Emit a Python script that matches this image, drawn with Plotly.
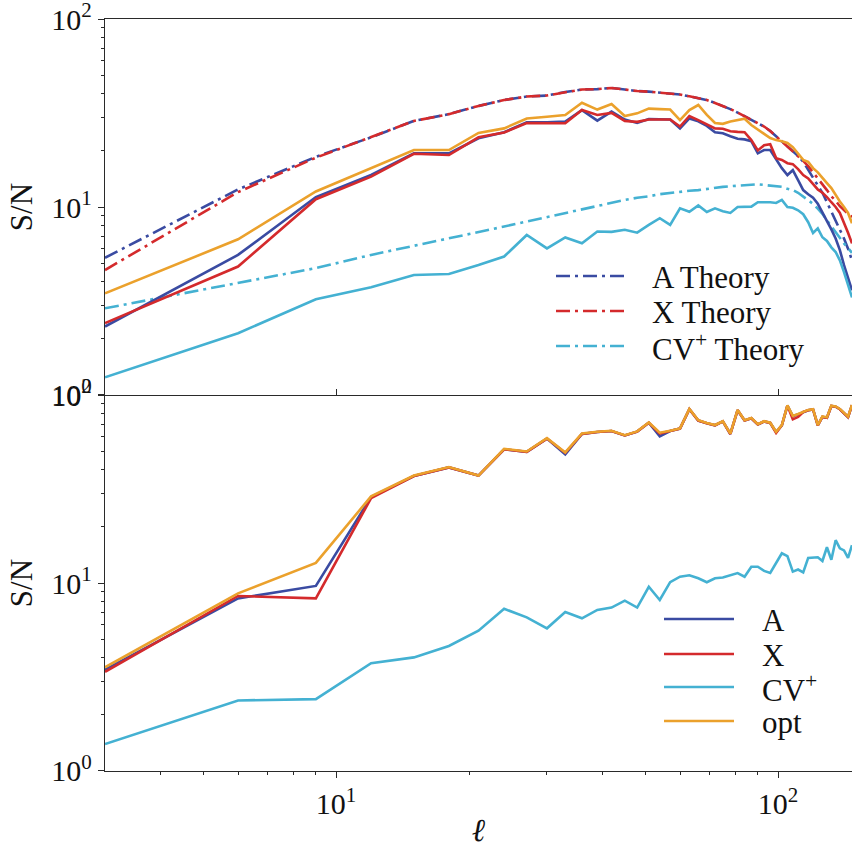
import math
import plotly.graph_objects as go

# ---------------- data ----------------
ell = [3, 6, 9, 12, 15, 18, 21, 24, 27, 30, 33, 36, 39, 42, 45, 48, 51, 54, 57, 60,
       63, 66, 69, 72, 75, 78, 81, 84, 87, 90, 93, 96, 99, 102, 105, 108, 111, 114,
       117, 120, 123, 126, 129, 132, 135, 138, 141, 144, 147]

# top panel: theory curves (dash-dot)
a_theory = [5.37, 12.4, 18.5, 23.5, 28.7, 31.2, 34.5, 37.1, 38.7, 39.2, 40.9, 42.2, 42.4, 43.0,
            42.2, 41.4, 41.1, 40.6, 40.1, 39.7, 38.8, 37.9, 37.1, 35.8, 34.5, 33.2, 31.8, 30.4,
            29.0, 28.0, 26.8, 25.4, 23.8, 22.4, 21.1, 19.8, 18.7, 17.4, 15.7, 14.4, 13.1, 11.9,
            10.6, 9.5, 8.5, 7.6, 6.8, 6.0, 5.2]
x_theory = [4.62, 12.0, 18.3, 23.5, 28.7, 31.2, 34.5, 37.1, 38.7, 39.2, 40.9, 42.2, 42.4, 43.0,
            42.2, 41.4, 41.1, 40.6, 40.1, 39.7, 38.8, 37.9, 37.1, 35.8, 34.5, 33.2, 31.8, 30.4,
            29.0, 28.0, 26.8, 25.4, 23.8, 22.4, 21.1, 19.8, 18.7, 17.6, 16.5, 15.3, 14.3, 13.2,
            12.3, 11.4, 10.8, 10.1, 9.6, 9.2, 8.85]
cv_theory = [2.89, 3.93, 4.73, 5.56, 6.2, 6.8, 7.36, 7.87, 8.37, 8.85, 9.3, 9.7, 10.1, 10.5,
             10.9, 11.2, 11.4, 11.7, 11.9, 12.0, 12.2, 12.3, 12.5, 12.6, 12.8, 12.9, 13.0, 13.1,
             13.2, 13.2, 13.1, 13.0, 12.9, 12.8, 12.5, 12.3, 11.9, 11.4, 10.9, 10.4, 9.8, 9.2,
             8.5, 7.9, 7.4, 6.8, 6.4, 6.05, 5.7]

# top panel: measured S/N (solid)
a_top = [2.31, 5.56, 11.3, 14.8, 19.3, 19.3, 23.2, 25.0, 28.2, 28.2, 28.5, 32.8, 28.8, 32.2,
         29.2, 28.0, 29.4, 29.2, 29.2, 26.2, 29.6, 28.6, 27.0, 25.0, 24.7, 23.8, 23.1, 22.9,
         22.4, 19.3, 20.1, 20.1, 17.8, 16.1, 14.8, 15.7, 13.9, 12.3, 11.7, 11.2, 10.4, 9.4,
         8.4, 7.6, 6.8, 5.9, 4.9, 4.2, 3.6]
x_top = [2.41, 4.82, 11.0, 14.5, 19.2, 18.9, 23.5, 24.9, 28.0, 28.0, 27.9, 32.8, 30.9, 31.7,
         28.7, 28.4, 29.2, 29.2, 29.2, 26.8, 30.5, 29.0, 27.6, 26.2, 26.1, 25.3, 25.1, 25.0,
         22.7, 20.0, 21.3, 21.6, 18.2, 17.8, 17.1, 16.9, 15.9, 14.8, 14.2, 13.3, 12.4, 11.9,
         11.3, 10.6, 10.0, 9.3, 8.3, 7.3, 6.4]
cv_top = [1.24, 2.13, 3.23, 3.74, 4.35, 4.40, 4.91, 5.45, 7.10, 6.02, 6.89, 6.41, 7.40, 7.37,
          7.56, 7.3, 8.03, 8.72, 8.03, 9.84, 9.44, 10.2, 9.4, 9.84, 9.5, 9.3, 10.0, 10.0,
          10.05, 10.6, 10.6, 10.6, 10.5, 10.9, 10.0, 9.9, 9.6, 9.15, 8.3, 7.27, 7.7, 6.9,
          6.6, 6.1, 5.76, 5.2, 4.5, 3.9, 3.3]
opt_top = [3.47, 6.73, 12.1, 16.1, 20.1, 20.1, 24.8, 26.2, 29.6, 30.2, 30.9, 35.9, 33.0, 35.3,
           30.5, 31.5, 33.4, 33.2, 33.0, 29.0, 32.8, 34.9, 30.9, 28.0, 27.7, 28.5, 29.0, 29.5,
           27.3, 25.7, 24.5, 23.3, 22.7, 22.4, 21.9, 20.8, 19.3, 17.8, 17.4, 16.1, 15.3, 14.4,
           13.4, 12.6, 11.5, 10.7, 10.0, 9.3, 8.2]

# bottom panel (solid)
a_bot = [3.45, 8.28, 9.65, 28.7, 37.1, 41.2, 37.3, 51.5, 49.9, 58.7, 48.3, 62.1, 63.6, 64.4,
         61.0, 63.9, 71.3, 60.3, 64.4, 66.3, 84.1, 73.2, 70.8, 69.1, 72.4, 62.1, 83.1, 73.2,
         75.3, 69.8, 72.4, 71.1, 63.6, 69.1, 87.9, 77.2, 79.0, 81.3, 83.1, 83.9, 69.1, 76.6,
         75.8, 87.5, 86.7, 84.1, 80.0, 76.4, 88.4]
x_bot = [3.37, 8.53, 8.28, 28.3, 37.1, 41.2, 37.3, 51.5, 49.9, 58.7, 49.3, 62.1, 63.6, 64.4,
         61.0, 63.9, 71.3, 62.5, 64.4, 66.3, 84.1, 73.2, 70.8, 69.1, 72.4, 62.1, 83.1, 73.2,
         75.3, 69.8, 72.4, 71.1, 62.9, 69.1, 87.9, 74.3, 76.5, 81.3, 83.1, 83.9, 69.1, 76.6,
         75.8, 87.5, 86.7, 84.1, 80.0, 76.4, 88.4]
cv_bot = [1.39, 2.37, 2.41, 3.74, 4.02, 4.62, 5.57, 7.29, 6.56, 5.74, 7.0, 6.49, 7.19, 7.40,
          8.05, 7.40, 9.55, 8.12, 10.1, 10.8, 11.0, 10.6, 10.1, 10.6, 10.7, 11.0, 11.3, 10.8,
          12.2, 12.2, 11.6, 11.3, 12.9, 14.4, 13.9, 11.5, 11.8, 11.4, 13.6, 13.7, 13.7, 13.1,
          15.5, 13.3, 16.9, 15.3, 14.9, 13.6, 15.9]
opt_bot = [3.56, 8.81, 12.8, 28.9, 37.3, 41.4, 37.3, 51.8, 50.1, 59.0, 49.5, 62.5, 63.8, 64.6,
           61.2, 64.1, 71.5, 63.1, 64.6, 66.5, 84.4, 73.5, 71.0, 69.3, 72.6, 62.4, 83.4, 73.5,
           75.6, 70.0, 72.6, 71.3, 63.8, 69.3, 88.2, 77.5, 79.3, 81.6, 83.4, 84.2, 69.3, 76.9,
           76.1, 87.8, 87.0, 84.4, 80.3, 76.7, 88.7]

top_legend = ["A Theory", "X Theory", "CV<sup>+</sup> Theory"]
bot_legend = ["A", "X", "CV<sup>+</sup>", "opt"]
y_tickvals = [1, 10, 100]
y_ticktext = ["10<sup>0</sup>", "10<sup>1</sup>", "10<sup>2</sup>"]
x_tickvals = [10, 100]
x_ticktext = ["10<sup>1</sup>", "10<sup>2</sup>"]

# ---------------- styling ----------------
C_A = "#3a4ba2"
C_X = "#d42a2c"
C_CV = "#44b1d2"
C_OPT = "#eba12c"
DASHDOT = "14px,5px,3px,5px"
LW = 2.6
FONT = "Liberation Serif"

W, H = 852, 848
ML, MR, MT, MB = 105, 0, 19, 77

fig = go.Figure()

def add(y, color, xa, ya, dash="solid", name=""):
    fig.add_trace(go.Scatter(x=ell, y=y, mode="lines", name=name, showlegend=False,
                             line=dict(color=color, width=LW, dash=dash),
                             xaxis=xa, yaxis=ya))

add(a_theory, C_A, "x", "y", DASHDOT, "A Theory")
add(x_theory, C_X, "x", "y", DASHDOT, "X Theory")
add(cv_theory, C_CV, "x", "y", DASHDOT, "CV+ Theory")
add(a_top, C_A, "x", "y", name="A")
add(x_top, C_X, "x", "y", name="X")
add(cv_top, C_CV, "x", "y", name="CV+")
add(opt_top, C_OPT, "x", "y", name="opt")

add(a_bot, C_A, "x2", "y2", name="A")
add(x_bot, C_X, "x2", "y2", name="X")
add(cv_bot, C_CV, "x2", "y2", name="CV+")
add(opt_bot, C_OPT, "x2", "y2", name="opt")

xr = [math.log10(ell[0]), math.log10(ell[-1])]
minor_x = [4, 5, 6, 7, 8, 9, 20, 30, 40, 50, 60, 70, 80, 90]
minor_y = [2, 3, 4, 5, 6, 7, 8, 9, 20, 30, 40, 50, 60, 70, 80, 90]
LINEC = "#2a2a2a"

yax = dict(type="log", range=[-0.0005, 2.0005], showline=True, linecolor=LINEC, linewidth=1.3,
           ticks="outside", ticklen=6, tickwidth=1.2, tickcolor=LINEC, automargin=False,
           ticklabeloverflow="allow",
           tickvals=y_tickvals, ticktext=y_ticktext, showgrid=False, zeroline=False,
           tickfont=dict(family=FONT, size=30, color="#111"),
           minor=dict(tickvals=minor_y, ticks="outside", ticklen=3, tickwidth=1, tickcolor=LINEC,
                      showgrid=False),
           title=dict(text="S/N", font=dict(family=FONT, size=31, color="#111"), standoff=9))

fig.update_layout(
    width=W, height=H, margin=dict(l=ML, r=MR, t=MT, b=MB, autoexpand=False),
    paper_bgcolor="white", plot_bgcolor="white", showlegend=False,
    xaxis=dict(type="log", range=xr, domain=[0, 1], anchor="y", showline=True, mirror=True,
               linecolor=LINEC, linewidth=1.3, ticks="inside", ticklen=6, tickcolor=LINEC,
               automargin=False,
               tickvals=x_tickvals, showticklabels=False, showgrid=False, zeroline=False),
    yaxis=dict(domain=[0.5, 1], anchor="x", **yax),
    xaxis2=dict(type="log", range=xr, domain=[0, 1], anchor="y2", matches="x", showline=True,
                linecolor=LINEC, linewidth=1.3, ticks="outside", ticklen=6, tickcolor=LINEC,
                automargin=False, ticklabeloverflow="allow",
                tickvals=x_tickvals, ticktext=x_ticktext, showgrid=False, zeroline=False,
                tickfont=dict(family=FONT, size=30, color="#111"),
                minor=dict(tickvals=minor_x, ticks="outside", ticklen=3, tickwidth=1,
                           tickcolor=LINEC, showgrid=False),
                title=dict(text="ℓ", font=dict(family=FONT, size=32, color="#111", style="italic"),
                           standoff=0)),
    yaxis2=dict(domain=[0, 0.5], anchor="x2", **yax),
)

# ---------------- legends (drawn as shapes + text) ----------------
PW = W - ML - MR
PH = H - MT - MB

def px(xp):
    return (xp - ML) / PW

def py(yp):
    return (H - MB - yp) / PH

top_items = [(top_legend[0], C_A, 276), (top_legend[1], C_X, 311), (top_legend[2], C_CV, 346)]
for label, col, yy in top_items:
    fig.add_shape(type="line", xref="paper", yref="paper", x0=px(556), x1=px(625),
                  y0=py(yy), y1=py(yy), line=dict(color=col, width=LW, dash=DASHDOT))
    fig.add_annotation(xref="paper", yref="paper", x=px(650), y=py(yy + 1), text=label,
                       showarrow=False, xanchor="left", yanchor="middle",
                       font=dict(family=FONT, size=31, color="#111"))

bot_items = [(bot_legend[0], C_A, 619), (bot_legend[1], C_X, 654), (bot_legend[2], C_CV, 687),
             (bot_legend[3], C_OPT, 721)]
for label, col, yy in bot_items:
    fig.add_shape(type="line", xref="paper", yref="paper", x0=px(664), x1=px(734),
                  y0=py(yy), y1=py(yy), line=dict(color=col, width=LW))
    fig.add_annotation(xref="paper", yref="paper", x=px(760), y=py(yy + 1), text=label,
                       showarrow=False, xanchor="left", yanchor="middle",
                       font=dict(family=FONT, size=31, color="#111"))

fig.write_html(
    "out.html",
    config={"displayModeBar": False},
    post_script="document.body.style.margin='0';document.body.style.overflow='hidden';",
)
